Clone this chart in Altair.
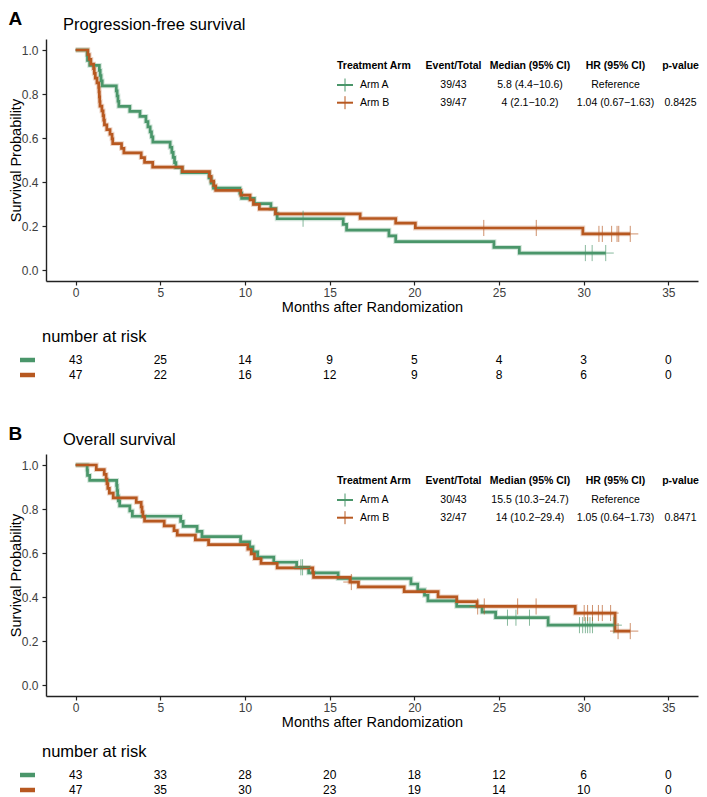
import altair as alt
import pandas as pd

FONT = "Liberation Sans"
ARMS = ["Arm A", "Arm B"]
ARM_COLORS = ["#4a966a", "#b75820"]

TIME_TICKS = [0, 5, 10, 15, 20, 25, 30, 35]
SURV_TICKS = [0.0, 0.2, 0.4, 0.6, 0.8, 1.0]

# ---------------- Progression-free survival ----------------
pfs_a_time = [0, 0.68, 0.70, 0.83, 1.40, 1.45, 1.50, 1.57, 2.40, 2.45, 2.50, 2.55,
              3.20, 3.80, 4.15, 4.27, 4.40, 4.48, 4.56, 5.58, 5.68, 5.76, 5.84, 5.92,
              6.28, 7.88, 8.00, 8.14, 9.70, 9.80, 10.55, 11.53, 11.82, 11.90, 15.80,
              16.00, 18.50, 18.90, 24.70, 26.20, 31.30]
pfs_a_surv = [1.0, 0.977, 0.953, 0.930, 0.907, 0.884, 0.860, 0.837, 0.814, 0.791, 0.767, 0.744,
              0.721, 0.698, 0.674, 0.651, 0.628, 0.605, 0.581, 0.558, 0.535, 0.512, 0.488, 0.465,
              0.442, 0.419, 0.395, 0.372, 0.349, 0.326, 0.302, 0.279, 0.256, 0.233, 0.207,
              0.181, 0.155, 0.129, 0.103, 0.077, 0.077]
pfs_b_time = [0, 0.72, 0.80, 0.90, 1.06, 1.10, 1.16, 1.26, 1.36, 1.38, 1.40, 1.42, 1.44,
              1.55, 1.62, 1.66, 1.70, 1.84, 2.03, 2.15, 2.19, 2.71, 2.85, 3.87, 4.07, 4.55,
              6.30, 7.90, 8.00, 8.15, 8.27, 9.75, 10.30, 10.50, 10.85, 11.80, 16.80, 18.90,
              20.06, 29.95, 32.75]
pfs_b_surv = [1.0, 0.979, 0.957, 0.936, 0.915, 0.894, 0.872, 0.851, 0.830, 0.809, 0.787, 0.766, 0.745,
              0.723, 0.702, 0.681, 0.660, 0.638, 0.617, 0.596, 0.574, 0.553, 0.532, 0.511, 0.489, 0.468,
              0.447, 0.426, 0.404, 0.383, 0.362, 0.340, 0.319, 0.298, 0.277, 0.255, 0.234, 0.213,
              0.191, 0.164, 0.164]
pfs_a_cens_time = [13.43, 30.10, 30.50, 31.30]
pfs_a_cens_surv = [0.233, 0.077, 0.077, 0.077]
pfs_b_cens_time = [24.10, 27.20, 30.90, 31.10, 31.65, 31.97, 32.07, 32.75]
pfs_b_cens_surv = [0.191, 0.191, 0.164, 0.164, 0.164, 0.164, 0.164, 0.164]

pfs_events = ["39/43", "39/47"]
pfs_median = ["5.8 (4.4\u221210.6)", "4 (2.1\u221210.2)"]
pfs_hr = ["Reference", "1.04 (0.67\u22121.63)"]
pfs_p = ["", "0.8425"]
pfs_risk_a = [43, 25, 14, 9, 5, 4, 3, 0]
pfs_risk_b = [47, 22, 16, 12, 9, 8, 6, 0]

# ---------------- Overall survival ----------------
os_a_time = [0, 0.68, 0.70, 0.83, 2.42, 2.45, 2.48, 2.52, 2.60, 3.20, 3.35, 6.20, 6.35,
             7.17, 7.46, 9.74, 10.27, 10.47, 10.75, 11.70, 13.05, 13.76, 15.50, 19.80,
             20.20, 20.60, 20.80, 22.50, 24.00, 24.80, 27.90, 31.80]
os_a_surv = [1.0, 0.977, 0.953, 0.930, 0.907, 0.884, 0.860, 0.837, 0.814, 0.791, 0.767, 0.744, 0.721,
             0.698, 0.674, 0.651, 0.628, 0.605, 0.581, 0.558, 0.535, 0.510, 0.484, 0.459,
             0.433, 0.408, 0.382, 0.357, 0.331, 0.306, 0.272, 0.272]
os_b_time = [0, 1.22, 1.69, 1.80, 1.85, 1.90, 1.99, 2.22, 3.58, 3.87, 3.92, 3.97, 4.07,
             5.23, 5.81, 6.00, 7.07, 7.85, 10.17, 10.37, 10.56, 10.95, 11.90, 14.00, 14.05,
             16.20, 16.70, 19.40, 21.40, 22.50, 23.70, 29.50, 31.85, 32.75]
os_b_surv = [1.0, 0.979, 0.957, 0.936, 0.915, 0.894, 0.872, 0.851, 0.830, 0.809, 0.787, 0.766, 0.745,
             0.723, 0.702, 0.681, 0.660, 0.638, 0.617, 0.596, 0.574, 0.553, 0.532, 0.511, 0.489,
             0.468, 0.446, 0.424, 0.401, 0.379, 0.357, 0.327, 0.245, 0.245]
os_a_cens_time = [13.30, 13.40, 25.50, 26.00, 26.80, 29.75, 29.94, 30.10, 30.23, 30.37, 30.52, 31.78]
os_a_cens_surv = [0.535, 0.535, 0.306, 0.306, 0.306, 0.272, 0.272, 0.272, 0.272, 0.272, 0.272, 0.272]
os_b_cens_time = [16.28, 23.74, 24.13, 26.10, 27.19, 30.03, 30.23, 30.52, 30.87, 31.10, 31.59, 32.03, 32.75]
os_b_cens_surv = [0.468, 0.357, 0.357, 0.357, 0.357, 0.327, 0.327, 0.327, 0.327, 0.327, 0.327, 0.245, 0.245]

os_events = ["30/43", "32/47"]
os_median = ["15.5 (10.3\u221224.7)", "14 (10.2\u221229.4)"]
os_hr = ["Reference", "1.05 (0.64\u22121.73)"]
os_p = ["", "0.8471"]
os_risk_a = [43, 33, 28, 20, 18, 12, 6, 0]
os_risk_b = [47, 35, 30, 23, 19, 14, 10, 0]

table_headers = ["Treatment Arm", "Event/Total", "Median (95% CI)", "HR (95% CI)", "p-value"]

# ---------------- layout constants (pixels) ----------------
PL = 46          # plot-area left edge in page coordinates
W, H = 652, 242  # plot area
RISK_H = 30
XDOM = [-1.75, 36.75]
YDOM = [-0.05, 1.05]

color = alt.Color("arm:N", scale=alt.Scale(domain=ARMS, range=ARM_COLORS), legend=None)


def ann(text, x, y, size=10.5, weight="normal", align="center", baseline="middle"):
    return alt.Chart(alt.Data(values=[{"t": text}])).mark_text(
        font=FONT, fontSize=size, fontWeight=weight, align=align,
        baseline=baseline, color="black"
    ).encode(text="t:N", x=alt.value(x), y=alt.value(y))


def km_panel(letter, title, times, survs, ctimes, csurvs, events, medians, hrs, pvals):
    rows = []
    for arm, ts, ss in zip(ARMS, times, survs):
        for t, s in zip(ts, ss):
            rows.append({"arm": arm, "time": t, "surv": s})
    curves = pd.DataFrame(rows)
    crow = []
    for arm, ts, ss in zip(ARMS, ctimes, csurvs):
        for t, s in zip(ts, ss):
            crow.append({"arm": arm, "time": t, "surv": s})
    cens = pd.DataFrame(crow)

    x = alt.X("time:Q", scale=alt.Scale(domain=XDOM, nice=False, zero=False),
              axis=alt.Axis(values=TIME_TICKS, format="d", title="Months after Randomization",
                            titleY=19, labelPadding=2))
    y = alt.Y("surv:Q", scale=alt.Scale(domain=YDOM, nice=False, zero=False),
              axis=alt.Axis(values=SURV_TICKS, format=".1f", title="Survival Probability",
                            titleX=-26, titleBaseline="alphabetic", labelPadding=4))

    halo = alt.Chart(curves).mark_line(interpolate="step-after", strokeWidth=4.8, opacity=0.25).encode(
        x=x, y=y, color=color)
    line = alt.Chart(curves).mark_line(interpolate="step-after", strokeWidth=2.7).encode(
        x=x, y=y, color=color)
    marks = alt.Chart(cens).mark_point(shape="M-1,0L1,0M0,-1L0,1", size=260, filled=False,
                                       strokeWidth=1, opacity=0.65).encode(x=x, y=y, color=color)

    layers = [halo, line, marks]
    layers.append(ann(letter, -37.5, -29, size=19, weight="bold", align="left", baseline="top"))
    layers.append(ann(title, 63 - PL, -14, size=16.5, align="left"))

    # summary table inside the plot
    hy, ry = 27, [46, 63.7]
    col_x = [337 - PL, 453.5 - PL, 530 - PL, 615.5 - PL, 680.5 - PL]
    layers.append(ann(table_headers[0], col_x[0], hy, weight="bold", align="left"))
    for cx, h in zip(col_x[1:], table_headers[1:]):
        layers.append(ann(h, cx, hy, weight="bold"))
    for i, arm in enumerate(ARMS):
        yy = ry[i]
        c = ARM_COLORS[i]
        layers.append(alt.Chart(alt.Data(values=[{}])).mark_rule(color=c, strokeWidth=2).encode(
            x=alt.value(337 - PL), x2=alt.value(353 - PL), y=alt.value(yy)))
        layers.append(alt.Chart(alt.Data(values=[{}])).mark_rule(color=c, strokeWidth=1).encode(
            x=alt.value(345 - PL), y=alt.value(yy - 6.5), y2=alt.value(yy + 6.5)))
        layers.append(ann(arm, 360 - PL, yy, align="left"))
        for cx, val in zip(col_x[1:], [events[i], medians[i], hrs[i], pvals[i]]):
            if val:
                layers.append(ann(val, cx, yy))

    return alt.layer(*layers).properties(width=W, height=H)


def risk_panel(risk_a, risk_b):
    df = pd.DataFrame({
        "time": TIME_TICKS + TIME_TICKS,
        "arm": [ARMS[0]] * len(TIME_TICKS) + [ARMS[1]] * len(TIME_TICKS),
        "n": risk_a + risk_b,
    })
    x = alt.X("time:Q", scale=alt.Scale(domain=XDOM, nice=False, zero=False), axis=None)
    y = alt.Y("arm:N", scale=alt.Scale(type="point", domain=ARMS, padding=0.5), axis=None)
    nums = alt.Chart(df).mark_text(font=FONT, fontSize=12, color="black").encode(
        x=x, y=y, text="n:Q")
    sw = alt.Chart(pd.DataFrame({"arm": ARMS})).mark_rule(strokeWidth=4.5).encode(
        y=y, x=alt.value(20 - PL), x2=alt.value(35 - PL), color=color)
    hdr = ann("number at risk", 42 - PL, -15.5, size=16.5, align="left")
    return alt.layer(nums, sw, hdr).properties(width=W, height=RISK_H)


pA = km_panel("A", "Progression-free survival", [pfs_a_time, pfs_b_time], [pfs_a_surv, pfs_b_surv],
              [pfs_a_cens_time, pfs_b_cens_time], [pfs_a_cens_surv, pfs_b_cens_surv],
              pfs_events, pfs_median, pfs_hr, pfs_p)
rA = risk_panel(pfs_risk_a, pfs_risk_b)
pB = km_panel("B", "Overall survival", [os_a_time, os_b_time], [os_a_surv, os_b_surv],
              [os_a_cens_time, os_b_cens_time], [os_a_cens_surv, os_b_cens_surv],
              os_events, os_median, os_hr, os_p)
rB = risk_panel(os_risk_a, os_risk_b)

chart = alt.vconcat(pA, rA, pB, rB, spacing=71.5, bounds="flush").properties(
    padding={"left": 0, "top": 2, "right": 0, "bottom": 0}
).configure_view(stroke=None).configure_axis(
    grid=False, domain=True, domainColor="#222222", domainWidth=1.4, tickColor="#222222",
    tickWidth=1.2, tickSize=4, labelColor="#3d3d3d", labelFont=FONT, labelFontSize=12,
    titleFont=FONT, titleFontSize=14.5, titleFontWeight="normal", titleColor="black"
)

chart.save("out.html", embed_options={"renderer": "svg", "actions": False})
